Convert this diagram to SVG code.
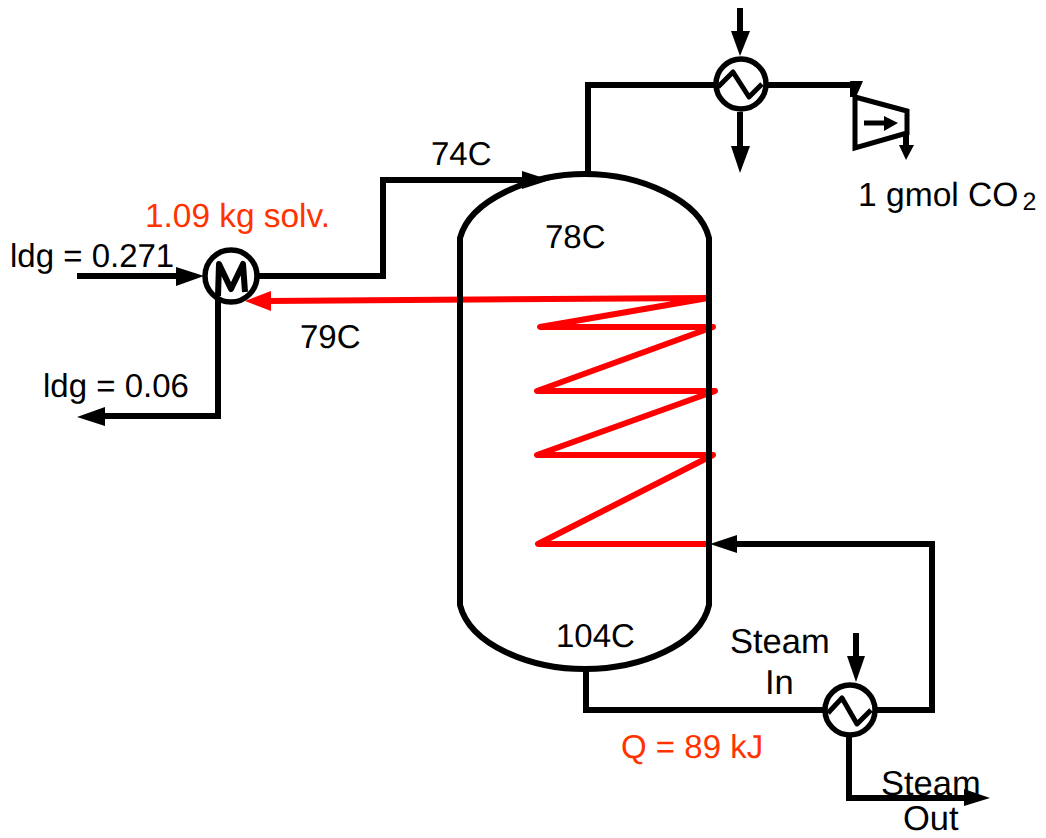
<svg xmlns="http://www.w3.org/2000/svg" width="1046" height="838" viewBox="0 0 1046 838">
<style>
text{font-family:"Liberation Sans",Arial,sans-serif;font-size:33px;fill:#000;text-rendering:geometricPrecision}
.o{fill:#ff3300}
.s{font-size:34.5px}
.l{fill:none;stroke:#000;stroke-width:6;stroke-linejoin:miter}
.z{fill:none;stroke:#000;stroke-width:5;stroke-linejoin:round}
.r{fill:none;stroke:#ff0000;stroke-width:6;stroke-linejoin:round}
.h{fill:#000;stroke:none}
.eq{fill:#fff;stroke:#000;stroke-width:5.5}
</style>
<rect width="1046" height="838" fill="#fff"/>
<g id="connectors">
<path class="l" d="M258 276H383V180H525"/><path class="h" d="M522 171L550 180L522 189Z"/>
<path class="l" d="M77 276H178"/><path class="h" d="M176 267L204 276L176 286Z"/>
<path class="l" d="M218 300V416H103"/><path class="h" d="M105 407L77 417L105 426Z"/>
<path class="l" d="M588 172V85H714"/>
<path class="l" d="M768 85H853V97"/><path class="h" d="M850 81H863L856 97Z"/>
<path class="l" d="M740 8V35"/><path class="h" d="M731 31H750L740 56Z"/>
<path class="l" d="M740 112V150"/><path class="h" d="M731 146H750L740 173Z"/>
<path class="l" d="M906 133V150"/><path class="h" d="M899 145H914L906 160Z"/>
<path class="l" d="M586 670V710H823"/>
<path class="l" d="M877 710H932V544H735"/><path class="h" d="M737 535L710 544L737 553Z"/>
<path class="l" d="M856 633V660"/><path class="h" d="M847 656H865L856 682Z"/>
<path class="l" d="M849 736V798H965"/><path class="h" d="M964 789L990 798L964 806Z"/>
<path class="r" d="M268 301L708 298L540 327H713L537 391H715L537 455H713L538 544H710"/>
<path fill="#ff0000" d="M271 291L245 301L271 311Z"/>
</g>
<g id="column"><path fill="none" stroke="#000" stroke-width="6" d="M460 238C470 200 530 174 585 174C640 174 700 200 709 238V605C700 645 640 669 585 669C530 669 470 645 460 605Z"/></g>
<g id="mixer"><circle class="eq" cx="231" cy="276" r="26"/><path fill="none" stroke="#000" stroke-width="6" stroke-linejoin="round" d="M218 296L219 264L231 289L243 264L245 292"/></g>
<g id="condenser"><circle class="eq" cx="741" cy="84" r="25"/><path class="z" d="M718 87L733 72L749 97L762 84"/></g>
<g id="reboiler"><circle class="eq" cx="850" cy="710" r="25"/><path class="z" d="M828 713L842 698L857 724L871 710"/></g>
<g id="compressor"><path fill="none" stroke="#000" stroke-width="5" d="M855 97L907 111V133L855 148Z"/><path fill="none" stroke="#000" stroke-width="5" d="M864 123H888"/><path class="h" d="M884 116L898 123L884 131Z"/></g>
<g id="labels">
<text x="431" y="165">74C</text>
<text x="545" y="248">78C</text>
<text x="300" y="348">79C</text>
<text x="556" y="647">104C</text>
<text class="o" x="145" y="227" style="font-size:33.4px">1.09 kg solv.</text>
<text x="10" y="267">ldg = 0.271</text>
<text x="43" y="397">ldg = 0.06</text>
<text x="858" y="206" style="font-size:33.6px">1 gmol CO<tspan font-size="25" dy="4" dx="4">2</tspan></text>
<text class="s" x="730" y="653">Steam</text>
<text class="s" x="765" y="694">In</text>
<text class="o" x="621" y="758">Q = 89 kJ</text>
<text class="s" x="881" y="795">Steam</text>
<text class="s" x="903" y="830">Out</text>
</g>
</svg>
